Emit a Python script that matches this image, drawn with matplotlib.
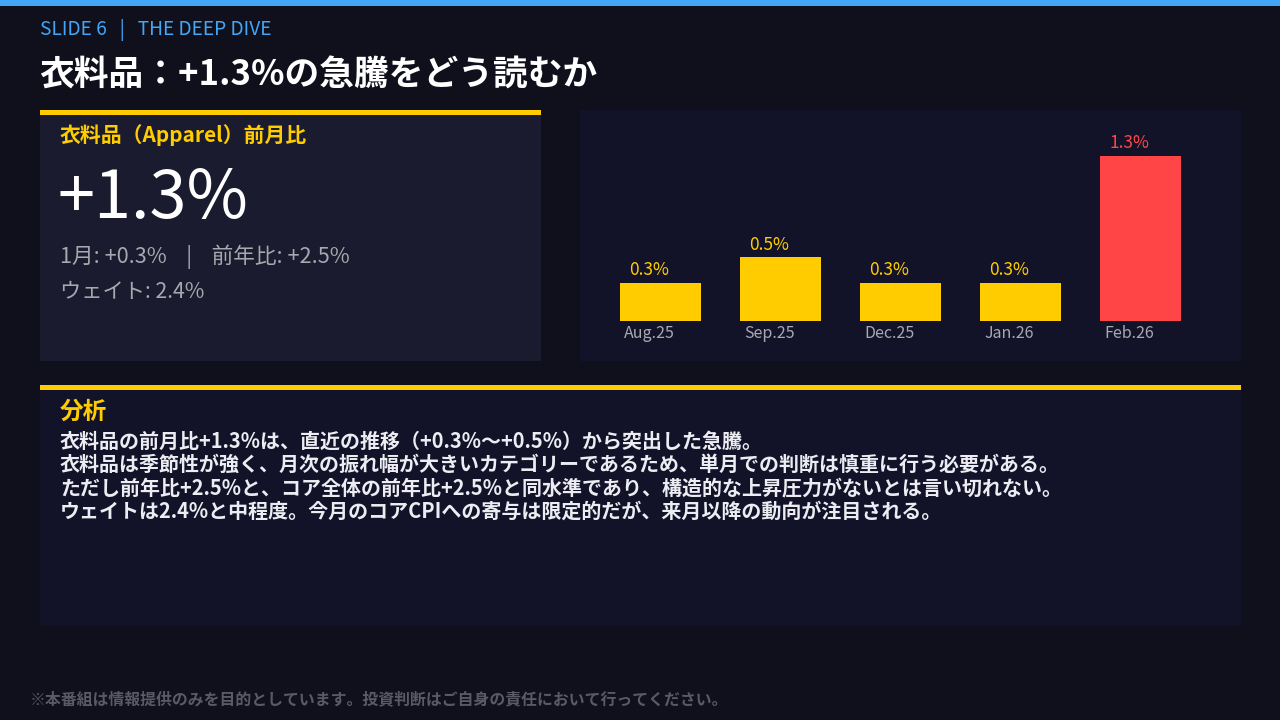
import matplotlib
matplotlib.use("Agg")
import matplotlib.pyplot as plt
from matplotlib.patches import Rectangle

plt.rcParams['font.family'] = ['Noto Sans CJK JP', 'DejaVu Sans']

# ---- data ----
months = ["Aug.25", "Sep.25", "Dec.25", "Jan.26", "Feb.26"]
mom_values = [0.3, 0.5, 0.3, 0.3, 1.3]
value_labels = ["0.3%", "0.5%", "0.3%", "0.3%", "1.3%"]
highlight = [False, False, False, False, True]

header = "SLIDE 6   |   THE DEEP DIVE"
title = "衣料品：+1.3%の急騰をどう読むか"
card_label = "衣料品（Apparel）前月比"
big_value = "+1.3%"
sub_line1 = "1月: +0.3%    |    前年比: +2.5%"
sub_line2 = "ウェイト: 2.4%"
analysis_title = "分析"
analysis_lines = [
    "衣料品の前月比+1.3%は、直近の推移（+0.3%〜+0.5%）から突出した急騰。",
    "衣料品は季節性が強く、月次の振れ幅が大きいカテゴリーであるため、単月での判断は慎重に行う必要がある。",
    "ただし前年比+2.5%と、コア全体の前年比+2.5%と同水準であり、構造的な上昇圧力がないとは言い切れない。",
    "ウェイトは2.4%と中程度。今月のコアCPIへの寄与は限定的だが、来月以降の動向が注目される。",
]
footer = "※本番組は情報提供のみを目的としています。投資判断はご自身の責任において行ってください。"

# ---- style ----
BG = "#10101d"
CARD_L = "#1a1b2e"
CARD_D = "#121329"
BLUE = "#42a5f5"
YELLOW = "#ffcc00"
RED = "#ff4545"
GRAY = "#a8a8b0"
W, H = 1280, 720

fig = plt.figure(figsize=(12.8, 7.2), dpi=100, facecolor=BG)

def fx(x):
    return x / W

def fy(y):
    return 1 - y / H

def rect(x0, y0, x1, y1, color):
    fig.patches.append(Rectangle((fx(x0), fy(y1)), fx(x1 - x0), (y1 - y0) / H,
                                 transform=fig.transFigure, facecolor=color,
                                 edgecolor='none', zorder=-5))

def text(x, y, s, **kw):
    fig.text(fx(x), fy(y), s, va='center', ha='left', **kw)

# top bar
rect(0, 0, W, 6, BLUE)
# cards
rect(40, 110, 541, 361, CARD_L)
rect(40, 110, 541, 115, YELLOW)
rect(580, 110, 1241, 361, CARD_D)
rect(40, 385, 1241, 626, CARD_D)
rect(40, 385, 1241, 390, YELLOW)

# header texts
text(40, 30, header, color=BLUE, fontsize=13.8)
text(39, 75, title, color="white", fontsize=25, fontweight='bold')

# left card
text(60, 135, card_label, color=YELLOW, fontsize=15, fontweight='bold')
text(57, 199, big_value, color="white", fontsize=48)
text(60, 257, sub_line1, color=GRAY, fontsize=15.6)
text(60, 292, sub_line2, color=GRAY, fontsize=15.3)

# analysis
text(60, 412, analysis_title, color=YELLOW, fontsize=17, fontweight='bold')
for i, line in enumerate(analysis_lines):
    text(60, 441 + i * 23.3, line, color="#ececf2", fontsize=14.4, fontweight='bold')

# footer
text(30, 699, footer, color="#5a5a66", fontsize=11.45, fontweight='bold')

# ---- bar chart ----
ax = fig.add_axes([fx(580), fy(321), fx(1241 - 580), (321 - 110) / H], zorder=2)
ax.set_facecolor('none')
bar_w = 81 / 120
xs = list(range(len(months)))
colors = [RED if h else YELLOW for h in highlight]
ax.bar(xs, mom_values, width=bar_w, color=colors, align='center')
ax.set_xlim(-80 / 120, 4 + 101 / 120)
ax.set_ylim(0, 211 / 127)
for x, v, lab, c in zip(xs, mom_values, value_labels, colors):
    ax.annotate(lab, (x - bar_w / 2, v), xytext=(7, 2.5), textcoords='offset points',
                ha='left', va='bottom', color=c, fontsize=12.5)
    ax.annotate(months[x], (x - bar_w / 2, 0), xytext=(3.5, -3), textcoords='offset points',
                ha='left', va='top', color=GRAY, fontsize=11.5, annotation_clip=False)
ax.axis('off')

fig.savefig("out.png", dpi=100, facecolor=BG)
